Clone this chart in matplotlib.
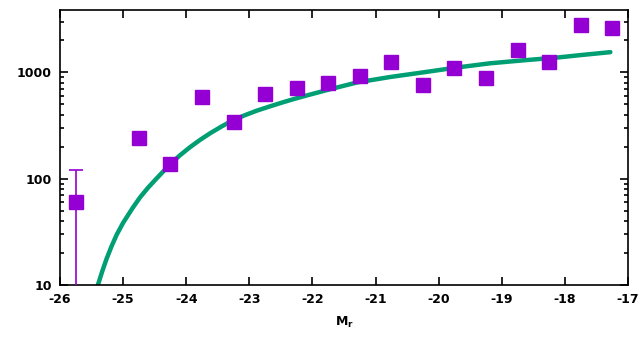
import numpy as np
import matplotlib
matplotlib.use('Agg')
import matplotlib.pyplot as plt
from matplotlib.ticker import LogLocator, FixedLocator, NullFormatter

# data points (magnitude bins, counts)
mag = [-25.75, -24.75, -24.25, -23.75, -23.25, -22.75, -22.25, -21.75, -21.25,
       -20.75, -20.25, -19.75, -19.25, -18.75, -18.25, -17.75, -17.25]
counts = [60, 240, 137, 582, 340, 633, 720, 790, 935,
          1260, 755, 1090, 895, 1620, 1240, 2800, 2600]

# error bar on the faintest-count bin
err_mag = [-25.75]
err_val = [60]
err_lo = [59.9]
err_hi = [61]

# fitted curve
fit_mag = [-25.40, -25.33, -25.26, -25.18, -25.10, -25.00, -24.85, -24.73,
           -24.60, -24.46, -24.26, -24.10, -23.94, -23.78, -23.62, -23.44,
           -23.26, -23.07, -22.88, -22.67, -22.47, -22.28, -22.09, -21.70,
           -21.29, -20.77, -20.25, -19.72, -19.19, -18.65, -18.12, -17.70, -17.28]
fit_val = [10, 13.5, 17.8, 23.4, 29.9, 38.5, 53, 67,
           83, 102, 136, 166, 198, 232, 268, 310,
           355, 396, 437, 480, 523, 565, 607, 700,
           805, 905, 1000, 1110, 1217, 1300, 1380, 1465, 1550]

purple = '#9400d3'
green = '#009e73'

fig = plt.figure(figsize=(6.43, 3.41), dpi=100)
ax = fig.add_axes([0.0933, 0.164, 0.8834, 0.808])

ax.plot(fit_mag, fit_val, color=green, lw=3.2, zorder=2,
        solid_joinstyle='round', solid_capstyle='round')
ax.errorbar(err_mag, err_val, yerr=[err_lo, err_hi], fmt='none',
            ecolor=purple, elinewidth=1.2, capsize=5, capthick=1.2, zorder=3)
ax.plot(mag, counts, 's', color=purple, ms=9.5, mec=purple, zorder=4)

ax.set_yscale('log')
ax.set_xlim(-26, -17)
ax.set_ylim(10, 3900)

ax.xaxis.set_major_locator(FixedLocator(np.arange(-26, -16.5, 1)))
ax.yaxis.set_major_locator(FixedLocator([10, 100, 1000]))
ax.yaxis.set_minor_locator(LogLocator(base=10, subs=np.arange(2, 10)))
ax.yaxis.set_minor_formatter(NullFormatter())
ax.set_yticklabels(['10', '100', '1000'])
ax.set_xticklabels([str(v) for v in range(-26, -16)])

ax.tick_params(which='both', direction='in', top=True, right=True,
               labelsize=9, width=1.2)
ax.tick_params(which='major', length=6, pad=6)
ax.tick_params(which='minor', length=3)
for lab in ax.get_xticklabels() + ax.get_yticklabels():
    lab.set_fontweight('bold')
for s in ax.spines.values():
    s.set_linewidth(1.2)

ax.set_xlabel(r'M$_\mathregular{r}$', fontsize=9, fontweight='bold', labelpad=6)

fig.savefig('out.png', dpi=100)
